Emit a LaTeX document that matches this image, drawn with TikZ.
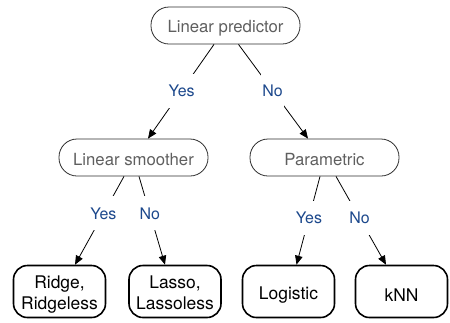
\documentclass[tikz,border=0pt]{standalone}
\usepackage{fontspec}
\setmainfont{TeX Gyre Heros}
\usetikzlibrary{arrows.meta}
\definecolor{ansblue}{RGB}{28,72,140}
\definecolor{pilltext}{RGB}{95,95,95}
\definecolor{pillline}{RGB}{45,45,45}
\newcommand{\leaftext}[1]{\raisebox{-3.5bp}[\height][\depth]{#1}}
\newcommand{\pilltext}[1]{\raisebox{-2.5bp}[\height][\depth]{#1}}
\tikzset{
  pill/.style={draw=pillline, line width=0.8bp, rounded corners=18bp,
    minimum width=149bp, minimum height=37bp, inner sep=0pt,
    text=pilltext, font=\fontsize{16.8}{19}\selectfont},
  leaf/.style={draw=black, line width=1.6bp, rounded corners=14bp,
    minimum width=92bp, minimum height=52bp, inner sep=0pt, align=center,
    font=\fontsize{17.5}{22}\selectfont},
  conn/.style={line width=0.8bp, -{Triangle[length=9bp,width=7.5bp]}},
  ans/.style={fill=white, text=ansblue, inner xsep=1.5bp, minimum height=34bp,
    font=\fontsize{16}{18}\selectfont}
}
\begin{document}
\begin{tikzpicture}[x=1bp,y=-1bp]
\useasboundingbox (0,0) rectangle (450,322);
\node[pill] (lp) at (225.5,25.5) {\pilltext{Linear predictor}};
\node[pill] (ls) at (133.5,157.5) {\pilltext{Linear smoother}};
\node[pill] (pa) at (324.5,157.5) {\pilltext{Parametric}};
\node[leaf] (ri) at (59.5,291.5) {\leaftext{\begin{tabular}{@{}c@{}}Ridge,\\[-1bp]Ridgeless\end{tabular}}};
\node[leaf] (la) at (175,291.5) {\leaftext{\begin{tabular}{@{}c@{}}Lasso,\\[-1bp]Lassoless\end{tabular}}};
\node[leaf] (lo) at (288.5,291.5) {\leaftext{Logistic}};
\node[leaf] (kn) at (401.5,291.5) {\leaftext{kNN}};
\draw[conn] ([xshift=-11.5bp]lp.south) -- node[ans,pos=0.49] {Yes} ([xshift=14.5bp]ls.north);
\draw[conn] ([xshift=13bp]lp.south) -- node[ans,pos=0.49] {No} ([xshift=-16.5bp]pa.north);
\draw[conn] ([xshift=-9.5bp]ls.south) -- node[ans,pos=0.42] {Yes} ([xshift=15.5bp]ri.north);
\draw[conn] ([xshift=5.5bp]ls.south) -- node[ans,pos=0.42] {No} ([xshift=-10bp]la.north);
\draw[conn] ([xshift=-4.5bp]pa.south) -- node[ans,pos=0.47] {Yes} ([xshift=8bp]lo.north);
\draw[conn] ([xshift=11.5bp]pa.south) -- node[ans,pos=0.47] {No} ([xshift=-15.5bp]kn.north);
\end{tikzpicture}
\end{document}
